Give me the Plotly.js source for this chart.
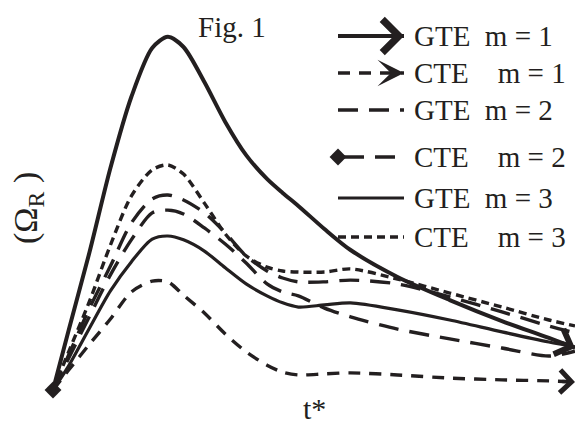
<!DOCTYPE html>
<html>
<head>
<meta charset="utf-8">
<script src="https://cdn.plot.ly/plotly-3.0.1.min.js"></script>
<style>html,body{margin:0;padding:0;background:#fff;}#chart{width:575px;height:430px;}</style>
</head>
<body>
<div id="chart"></div>
<script>
// ---- data ----
const tStar = [0, 0.3, 0.7, 1.1, 1.5, 1.9, 2.2, 2.5, 2.9, 3.3, 3.7, 4.1, 4.4, 4.7, 5.2, 5.7, 6.6, 7.6, 8.6, 9.5, 10];
const gteM1 = [0, 1.71, 3.94, 6.34, 8.37, 9.77, 10.09, 9.8, 8.8, 7.66, 6.71, 6.03, 5.63, 5.26, 4.6, 4.0, 3.23, 2.57, 1.97, 1.49, 1.2];
const cteM1 = [0, 0.57, 1.31, 2.03, 2.8, 3.11, 3.09, 2.71, 2.2, 1.6, 1.09, 0.71, 0.51, 0.43, 0.46, 0.49, 0.43, 0.34, 0.29, 0.26, 0.23];
const gteM2 = [0, 1.0, 2.34, 3.54, 4.77, 5.46, 5.57, 5.43, 5.06, 4.49, 3.83, 3.4, 3.2, 3.09, 3.09, 3.14, 3.03, 2.66, 2.23, 1.83, 1.63];
const cteM2 = [0, 0.91, 2.11, 3.29, 4.29, 5.06, 5.14, 5.03, 4.63, 4.17, 3.63, 3.03, 2.8, 2.69, 2.34, 2.09, 1.74, 1.46, 1.2, 0.97, 1.11];
const gteM3 = [0, 0.69, 1.77, 2.83, 3.66, 4.31, 4.4, 4.29, 3.97, 3.49, 3.03, 2.69, 2.49, 2.37, 2.43, 2.49, 2.29, 2.0, 1.66, 1.37, 1.23];
const cteM3 = [0, 1.09, 2.54, 4.14, 5.54, 6.29, 6.43, 6.17, 5.34, 4.46, 3.83, 3.51, 3.4, 3.37, 3.37, 3.46, 3.17, 2.77, 2.37, 2.0, 1.83];
const seriesNames = ['GTE  m = 1', 'CTE    m = 1', 'GTE  m = 2', 'CTE    m = 2', 'GTE  m = 3', 'CTE    m = 3'];
const seriesValues = [gteM1, cteM1, gteM2, cteM2, gteM3, cteM3];
const xTitle = 't*';
const yTitle = '(Ω<sub>R</sub> )';
const figLabel = 'Fig. 1';

// ---- styles / layout ----
const INK = '#231f20';
const W = 575, H = 430, ML = 53, MR = 0, MT = 5, MB = 40;
const FONT = 'Liberation Serif';
const styles = [
  {width: 4, dash: 'solid', arrow: 4, legendArrow: 4, arrowSize: 1.6},
  {width: 3.4, dash: '12px,9px', arrow: 4, legendArrow: 3, arrowSize: 1.3},
  {width: 3.4, dash: '20px,11px'},
  {width: 3.4, dash: '20px,11px', startDiamond: true},
  {width: 3.2, dash: 'solid'},
  {width: 3.4, dash: '8px,5px'}
];
const legendRowsPx = [36, 73, 110, 157, 198, 237];
const legendLineX = [338, 404];
const legendTextX = 412;

function px2paperX(px) { return (px - ML) / (W - ML - MR); }
function px2paperY(py) { return (H - MB - py) / (H - MT - MB); }

const traces = [];
const annotations = [];

function arrowAnn(xref, yref, xs, ys, head, width, size, standoffFromTail) {
  const n = xs.length;
  return {xref: xref, yref: yref, axref: xref, ayref: yref,
    x: xs[n - 1], y: ys[n - 1], ax: xs[n - 2], ay: ys[n - 2],
    text: '', showarrow: true, arrowhead: head, arrowsize: size, arrowwidth: width,
    arrowcolor: INK, startstandoff: standoffFromTail};
}

seriesValues.forEach((vals, k) => {
  const st = styles[k];
  traces.push({
    type: 'scatter', mode: 'lines', x: tStar, y: vals, name: seriesNames[k],
    line: {color: INK, width: st.width, dash: st.dash, shape: 'spline', smoothing: 0.8},
    hoverinfo: 'skip'
  });
  if (st.startDiamond) {
    traces.push({type: 'scatter', mode: 'markers', x: [tStar[0]], y: [vals[0]],
      marker: {symbol: 'diamond', size: 13, color: INK}, cliponaxis: false, hoverinfo: 'skip'});
  }
  if (st.arrow) {
    annotations.push(arrowAnn('x', 'y', tStar, vals, st.arrow, st.width, 1.3, 12));
  }
});

// legend samples on an overlay pixel-space axis pair
seriesNames.forEach((nm, k) => {
  const st = styles[k];
  const ry = legendRowsPx[k];
  const lx = st.startDiamond ? [legendLineX[0] + 6, legendLineX[1]] : legendLineX;
  traces.push({
    type: 'scatter', mode: 'lines', xaxis: 'x2', yaxis: 'y2',
    x: lx, y: [ry, ry],
    line: {color: INK, width: st.width, dash: st.dash}, hoverinfo: 'skip'
  });
  if (st.startDiamond) {
    traces.push({type: 'scatter', mode: 'markers', xaxis: 'x2', yaxis: 'y2',
      x: [legendLineX[0]], y: [ry],
      marker: {symbol: 'diamond', size: 13, color: INK}, cliponaxis: false, hoverinfo: 'skip'});
  }
  if (st.legendArrow) {
    annotations.push(arrowAnn('x2', 'y2', legendLineX, [ry, ry], st.legendArrow, st.width, st.arrowSize, 52));
  }
  annotations.push({xref: 'x2', yref: 'y2', x: legendTextX, y: ry, xanchor: 'left', yanchor: 'middle',
    text: nm.replace(/ /g, '\u00a0'), showarrow: false,
    font: {family: FONT, size: 29, color: INK}});
});

annotations.push({xref: 'paper', yref: 'paper', x: px2paperX(232), y: px2paperY(27),
  xanchor: 'center', yanchor: 'middle', text: figLabel, showarrow: false,
  font: {family: FONT, size: 29, color: INK}});
annotations.push({xref: 'paper', yref: 'paper', x: px2paperX(314), y: px2paperY(409),
  xanchor: 'center', yanchor: 'middle', text: xTitle, showarrow: false,
  font: {family: FONT, size: 30, color: INK}});
annotations.push({xref: 'paper', yref: 'paper', x: px2paperX(28), y: px2paperY(208),
  xanchor: 'center', yanchor: 'middle', text: yTitle, textangle: -90, showarrow: false,
  font: {family: FONT, size: 34, color: INK}});

const layout = {
  width: W, height: H,
  margin: {l: ML, r: MR, t: MT, b: MB},
  paper_bgcolor: '#fff', plot_bgcolor: '#fff',
  showlegend: false,
  xaxis: {range: [0, 10], visible: false, fixedrange: true},
  yaxis: {range: [0, 11], visible: false, fixedrange: true},
  xaxis2: {overlaying: 'x', range: [ML, W - MR], visible: false, fixedrange: true},
  yaxis2: {overlaying: 'y', range: [H - MB, MT], visible: false, fixedrange: true},
  annotations: annotations
};

Plotly.newPlot('chart', traces, layout, {staticPlot: true, displayModeBar: false});
</script>
</body>
</html>
